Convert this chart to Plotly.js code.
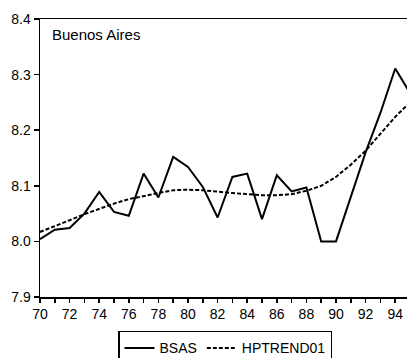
<!DOCTYPE html>
<html>
<head>
<meta charset="utf-8">
<script src="https://cdn.plot.ly/plotly-3.0.1.min.js"></script>
<style>
  html, body { margin: 0; padding: 0; overflow: hidden; background: #fff; }
  #chart { width: 413px; height: 358px; }
</style>
</head>
<body>
<div id="chart"></div>
<script>
// Years 1970-1995, shown as two-digit labels
const years = [70, 71, 72, 73, 74, 75, 76, 77, 78, 79, 80, 81, 82,
               83, 84, 85, 86, 87, 88, 89, 90, 91, 92, 93, 94, 95];

// BSAS series (log level)
const bsas = [8.004, 8.021, 8.024, 8.050, 8.089, 8.053, 8.046, 8.122, 8.079,
              8.152, 8.134, 8.098, 8.043, 8.116, 8.122, 8.040, 8.119, 8.090,
              8.097, 8.000, 8.000, 8.080, 8.160, 8.231, 8.311, 8.267];

// Hodrick-Prescott trend of BSAS
const hptrend = [8.017, 8.027, 8.038, 8.049, 8.059, 8.068, 8.076, 8.082, 8.087,
                 8.092, 8.093, 8.092, 8.089, 8.087, 8.085, 8.083, 8.083, 8.085,
                 8.091, 8.100, 8.116, 8.138, 8.163, 8.194, 8.224, 8.250];

const xTickVals = [70, 72, 74, 76, 78, 80, 82, 84, 86, 88, 90, 92, 94];
const yTickVals = [7.9, 8.0, 8.1, 8.2, 8.3, 8.4];

const FONT = 'Liberation Sans, Arial, sans-serif';

const traces = [
  {
    x: years, y: bsas, name: 'BSAS', type: 'scatter', mode: 'lines',
    line: { color: '#000', width: 2 }
  },
  {
    x: years, y: hptrend, name: 'HPTREND01', type: 'scatter', mode: 'lines',
    line: { color: '#000', width: 2, dash: '4px,2px' }
  }
];

const layout = {
  width: 413, height: 358,
  margin: { l: 40, r: 3, t: 19, b: 61, autoexpand: false },
  paper_bgcolor: '#fff', plot_bgcolor: '#fff',
  font: { family: FONT, size: 14, color: '#000' },
  showlegend: true,
  legend: {
    orientation: 'h', x: 0.5, xanchor: 'center', y: -0.122, yanchor: 'top',
    bordercolor: '#000', borderwidth: 1.5, bgcolor: '#fff',
    font: { family: FONT, size: 14, color: '#000' },
    itemwidth: 30, tracegroupgap: 0
  },
  xaxis: {
    range: [70, 95], tickvals: xTickVals, ticktext: xTickVals.map(String),
    ticks: 'outside', ticklen: 4, tickwidth: 1.5, tickcolor: '#000',
    minor: { dtick: 1, tick0: 70, ticks: 'outside', ticklen: 4, tickwidth: 1.5, tickcolor: '#000' },
    showline: true, linecolor: '#000', linewidth: 1.5, mirror: true,
    showgrid: false, zeroline: false, fixedrange: true,
    tickfont: { family: FONT, size: 14, color: '#000' }
  },
  yaxis: {
    range: [7.9, 8.4], tickvals: yTickVals, tickformat: '.1f',
    ticks: 'outside', ticklen: 5, tickwidth: 1.5, tickcolor: '#000',
    showline: true, linecolor: '#000', linewidth: 1.5, mirror: true,
    showgrid: false, zeroline: false, fixedrange: true,
    tickfont: { family: FONT, size: 14, color: '#000' }
  },
  annotations: [{
    text: 'Buenos Aires', xref: 'paper', yref: 'paper',
    x: 0.027, y: 0.944, xanchor: 'left', yanchor: 'middle',
    showarrow: false, font: { family: FONT, size: 15, color: '#000' }
  }]
};

Plotly.newPlot('chart', traces, layout, { displayModeBar: false, staticPlot: true });
</script>
</body>
</html>
